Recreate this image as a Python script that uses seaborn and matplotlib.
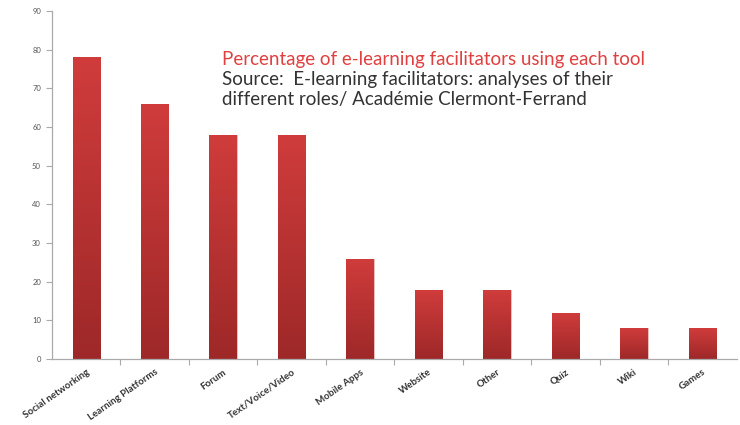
import matplotlib
matplotlib.use("Agg")
import matplotlib.pyplot as plt
import seaborn as sns
import numpy as np
import pandas as pd

tools = ["Social networking", "Learning Platforms", "Forum", "Text/Voice/Video",
         "Mobile Apps", "Website", "Other", "Quiz", "Wiki", "Games"]
percent = [78, 66, 58, 58, 26, 18, 18, 12, 8, 8]
y_ticks = [0, 10, 20, 30, 40, 50, 60, 70, 80, 90]

df = pd.DataFrame({"tool": tools, "percent": percent})

sns.set_style("white")
plt.rcParams['font.family'] = ['Lato', 'DejaVu Sans']

fig = plt.figure(figsize=(7.4, 4.25), dpi=100)
ax = fig.add_axes([0.0703, 0.155, 0.925, 0.819])

sns.barplot(data=df, x="tool", y="percent", color="#b83030", width=0.4, ax=ax,
            saturation=1)

# vertical gradient on each bar: lighter at top, darker at bottom
grad = np.linspace(0, 1, 256).reshape(-1, 1)
cmap = matplotlib.colors.LinearSegmentedColormap.from_list("bar", ["#9e2828", "#d03c3c"])
for p in ax.patches:
    x0, y0 = p.get_x(), p.get_y()
    w, h = p.get_width(), p.get_height()
    p.set_facecolor("none")
    p.set_edgecolor("#e8b0b0")
    p.set_linewidth(0.6)
    im = ax.imshow(grad, cmap=cmap, aspect="auto", origin="lower",
                   extent=[x0, x0 + w, y0, y0 + h], zorder=1.5)
    im.set_clip_path(p)

ax.set_xlim(-0.5, 9.5)
ax.set_ylim(0, 90)
ax.set_yticks(y_ticks)
ax.set_yticklabels([str(v) for v in y_ticks], fontsize=5.5, color="#555555")
ax.set_xlabel("")
ax.set_ylabel("")
ax.set_xticks(range(len(tools)))
ax.set_xticklabels(tools, rotation=35, ha="right", rotation_mode="anchor",
                   fontsize=7, fontweight="bold", color="#333333")
ax.tick_params(axis="x", which="major", bottom=True, length=0, pad=6)
ax.set_xticks(np.arange(0.5, 9.5, 1), minor=True)
ax.tick_params(axis="x", which="minor", bottom=True, length=4, color="#aaaaaa", width=0.8)
ax.tick_params(axis="y", left=True, length=4, color="#aaaaaa", width=0.8, pad=4)

for s in ["top", "right"]:
    ax.spines[s].set_visible(False)
for s in ["left", "bottom"]:
    ax.spines[s].set_color("#aaaaaa")
    ax.spines[s].set_linewidth(0.9)

fig.text(0.30, 0.859, "Percentage of e-learning facilitators using each tool",
         fontsize=13.5, color="#e04040", va="center")
fig.text(0.30, 0.812, "Source:  E-learning facilitators: analyses of their",
         fontsize=13.5, color="#333333", va="center")
fig.text(0.30, 0.767, "different roles/ Académie Clermont-Ferrand",
         fontsize=13.5, color="#333333", va="center")

fig.savefig("out.png", dpi=100)
